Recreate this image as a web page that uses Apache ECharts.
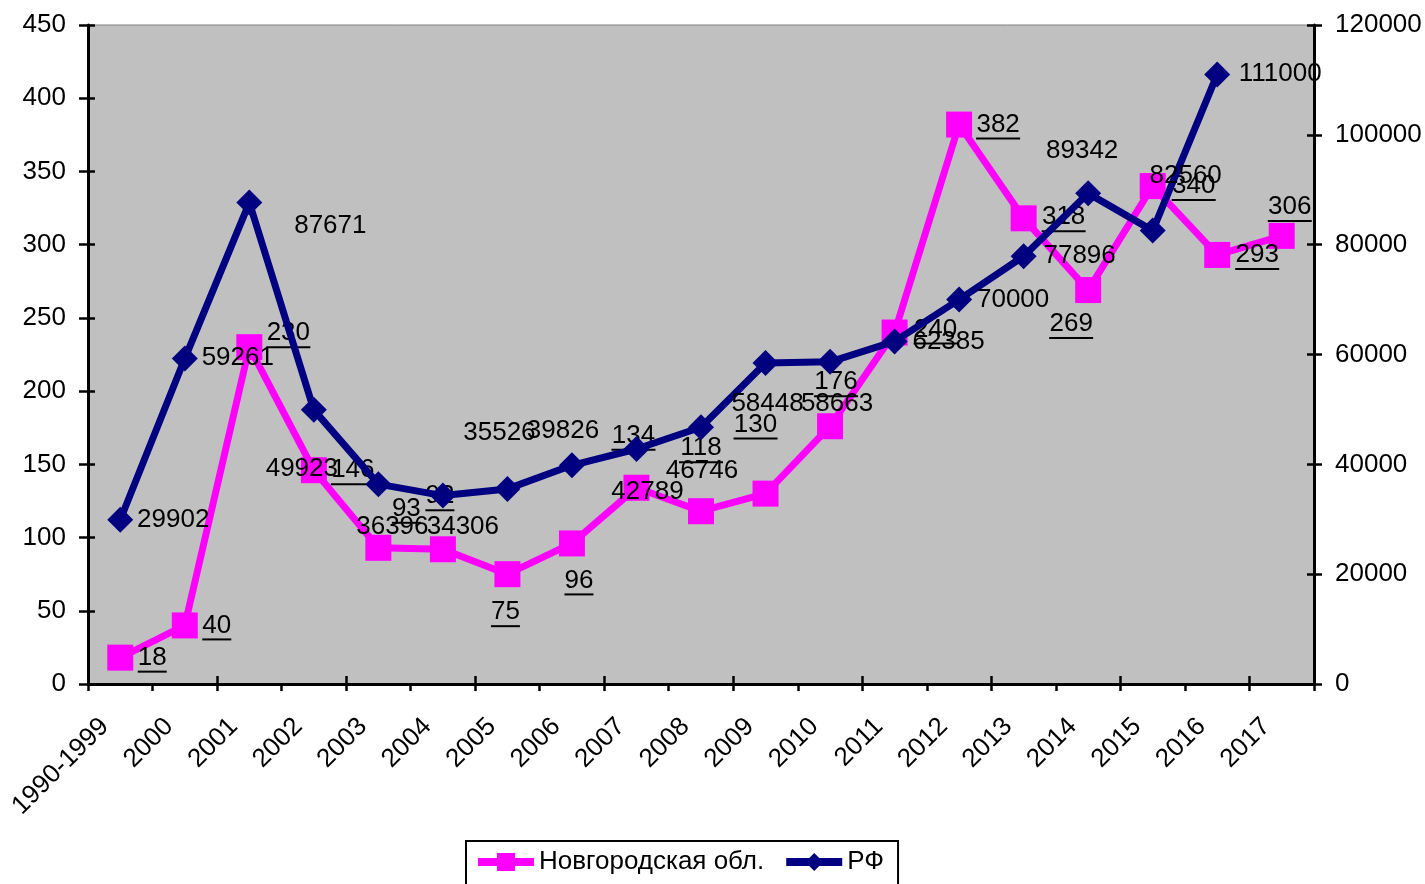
<!DOCTYPE html>
<html>
<head>
<meta charset="utf-8">
<script src="https://cdn.jsdelivr.net/npm/echarts@6/dist/echarts.min.js"></script>
<style>html,body{margin:0;padding:0;background:#fff}#c{width:1425px;height:884px}</style>
</head>
<body>
<div id="c"></div>
<script>
// ---- data ----
const categories = ['1990-1999','2000','2001','2002','2003','2004','2005','2006','2007','2008','2009','2010','2011','2012','2013','2014','2015','2016','2017'];
const novgorodName = 'Новгородская обл.';
const russiaName = 'РФ';
const novgorodValues = [18,40,230,146,93,92,75,96,134,118,130,176,240,382,318,269,340,293,306];
const russiaValues = [29902,59261,87671,49923,36396,34306,35526,39826,42789,46746,58448,58663,62385,70000,77896,89342,82560,111000];
const leftAxisMax = 450, leftAxisStep = 50;
const rightAxisMax = 120000, rightAxisStep = 20000;

// ---- label placement (styling only) ----
const novgorodLabelOffsets = [[32,0],[32,0],[39,-14],[39,0],[28,-39],[-3,-53],[-2,38],[7,37],[-3,-52],[0,-63],[-10,-69],[6,-44],[41,-3],[39,0],[40,-1],[-17,34],[41,0],[40,0],[8,-29]];
const russiaLabelOffsets = [[53,0],[53,-1],[81,23],[-12,59],[14,43],[20,31],[-8,-56],[-9,-34],[11,43],[1,44],[2,41],[7,42],[54,0],[54,0],[56,0],[-6,-43],[33,-55],[63,-1]];

const FONT = "'Liberation Sans', Arial, sans-serif";
const FS = 26;
const PINK = '#FF00FF', NAVY = '#000080';

const chart = echarts.init(document.getElementById('c'), null, {renderer: 'canvas'});

const tickStyle = {color: '#000', width: 2.5};
const plain = v => String(v);

const option = {
  animation: false,
  backgroundColor: '#fff',
  textStyle: {fontFamily: FONT},
  grid: {
    left: 88, right: 111, top: 25, bottom: 200,
    containLabel: false, outerBoundsMode: 'none',
    show: true, backgroundColor: '#C0C0C0', borderColor: '#808080', borderWidth: 1
  },
  legend: {
    left: 466, top: 841,
    padding: [8, 14, 24, 8],
    borderColor: '#000', borderWidth: 2,
    itemWidth: 56, itemHeight: 22.5, itemGap: 18,
    lineStyle: {width: 8},
    textStyle: {fontSize: FS, color: '#000', fontFamily: FONT},
    data: [novgorodName, russiaName]
  },
  xAxis: [{
    type: 'category', data: categories, boundaryGap: true, position: 'bottom',
    axisLine: {lineStyle: {color: '#000', width: 3}},
    axisTick: {show: true, inside: false, length: 7, alignWithLabel: false, lineStyle: tickStyle},
    axisLabel: {interval: 0, rotate: 45, margin: 23, fontSize: FS, color: '#000', fontFamily: FONT, padding: [0, 22, 0, 0]},
    splitLine: {show: false}
  }, {
    type: 'category', data: categories, boundaryGap: true, position: 'bottom',
    axisLine: {show: false},
    axisTick: {show: true, inside: true, length: 8, lineStyle: tickStyle},
    axisLabel: {show: false}, splitLine: {show: false}
  }],
  yAxis: [{
    type: 'value', position: 'left', min: 0, max: leftAxisMax, interval: leftAxisStep,
    axisLine: {show: true, lineStyle: {color: '#000', width: 3}},
    axisTick: {show: true, inside: false, length: 9, lineStyle: tickStyle},
    axisLabel: {margin: 22, fontSize: FS, color: '#000', fontFamily: FONT, formatter: plain},
    splitLine: {show: false}
  }, {
    type: 'value', position: 'right', min: 0, max: rightAxisMax, interval: rightAxisStep,
    axisLine: {show: true, lineStyle: {color: '#000', width: 3}},
    axisTick: {show: true, inside: false, length: 8, lineStyle: tickStyle},
    axisLabel: {margin: 21, fontSize: FS, color: '#000', fontFamily: FONT, formatter: plain},
    splitLine: {show: false}
  }, {
    type: 'value', position: 'left', min: 0, max: leftAxisMax, interval: leftAxisStep,
    axisLine: {show: false}, axisTick: {show: true, inside: true, length: 7, lineStyle: tickStyle},
    axisLabel: {show: false}, splitLine: {show: false}
  }, {
    type: 'value', position: 'right', min: 0, max: rightAxisMax, interval: rightAxisStep,
    axisLine: {show: false}, axisTick: {show: true, inside: true, length: 7, lineStyle: tickStyle},
    axisLabel: {show: false}, splitLine: {show: false}
  }],
  series: [{
    name: novgorodName, type: 'line', xAxisIndex: 0, yAxisIndex: 0,
    symbol: 'rect', symbolSize: 26,
    lineStyle: {color: PINK, width: 7}, itemStyle: {color: PINK},
    emphasis: {disabled: true},
    data: novgorodValues.map((v, i) => ({
      value: v,
      label: {offset: [novgorodLabelOffsets[i][0], novgorodLabelOffsets[i][1] + 1]}
    })),
    label: {
      show: true, position: 'inside',
      formatter: p => '{t|' + p.value + '}\n{u' + String(p.value).length + '|}',
      rich: {
        t: {fontSize: FS, lineHeight: 26, color: '#000', fontFamily: FONT},
        u2: {width: 29, height: 2, lineHeight: 2, backgroundColor: '#000'},
        u3: {width: 44, height: 2, lineHeight: 2, backgroundColor: '#000'}
      }
    },
    z: 2
  }, {
    name: russiaName, type: 'line', xAxisIndex: 0, yAxisIndex: 1,
    symbol: 'diamond', symbolSize: 26,
    lineStyle: {color: NAVY, width: 7}, itemStyle: {color: NAVY},
    emphasis: {disabled: true},
    data: russiaValues.map((v, i) => ({
      value: v,
      label: {offset: russiaLabelOffsets[i]}
    })),
    label: {show: true, position: 'inside', fontSize: FS, color: '#000', fontFamily: FONT},
    z: 3
  }]
};
chart.setOption(option);
</script>
</body>
</html>
